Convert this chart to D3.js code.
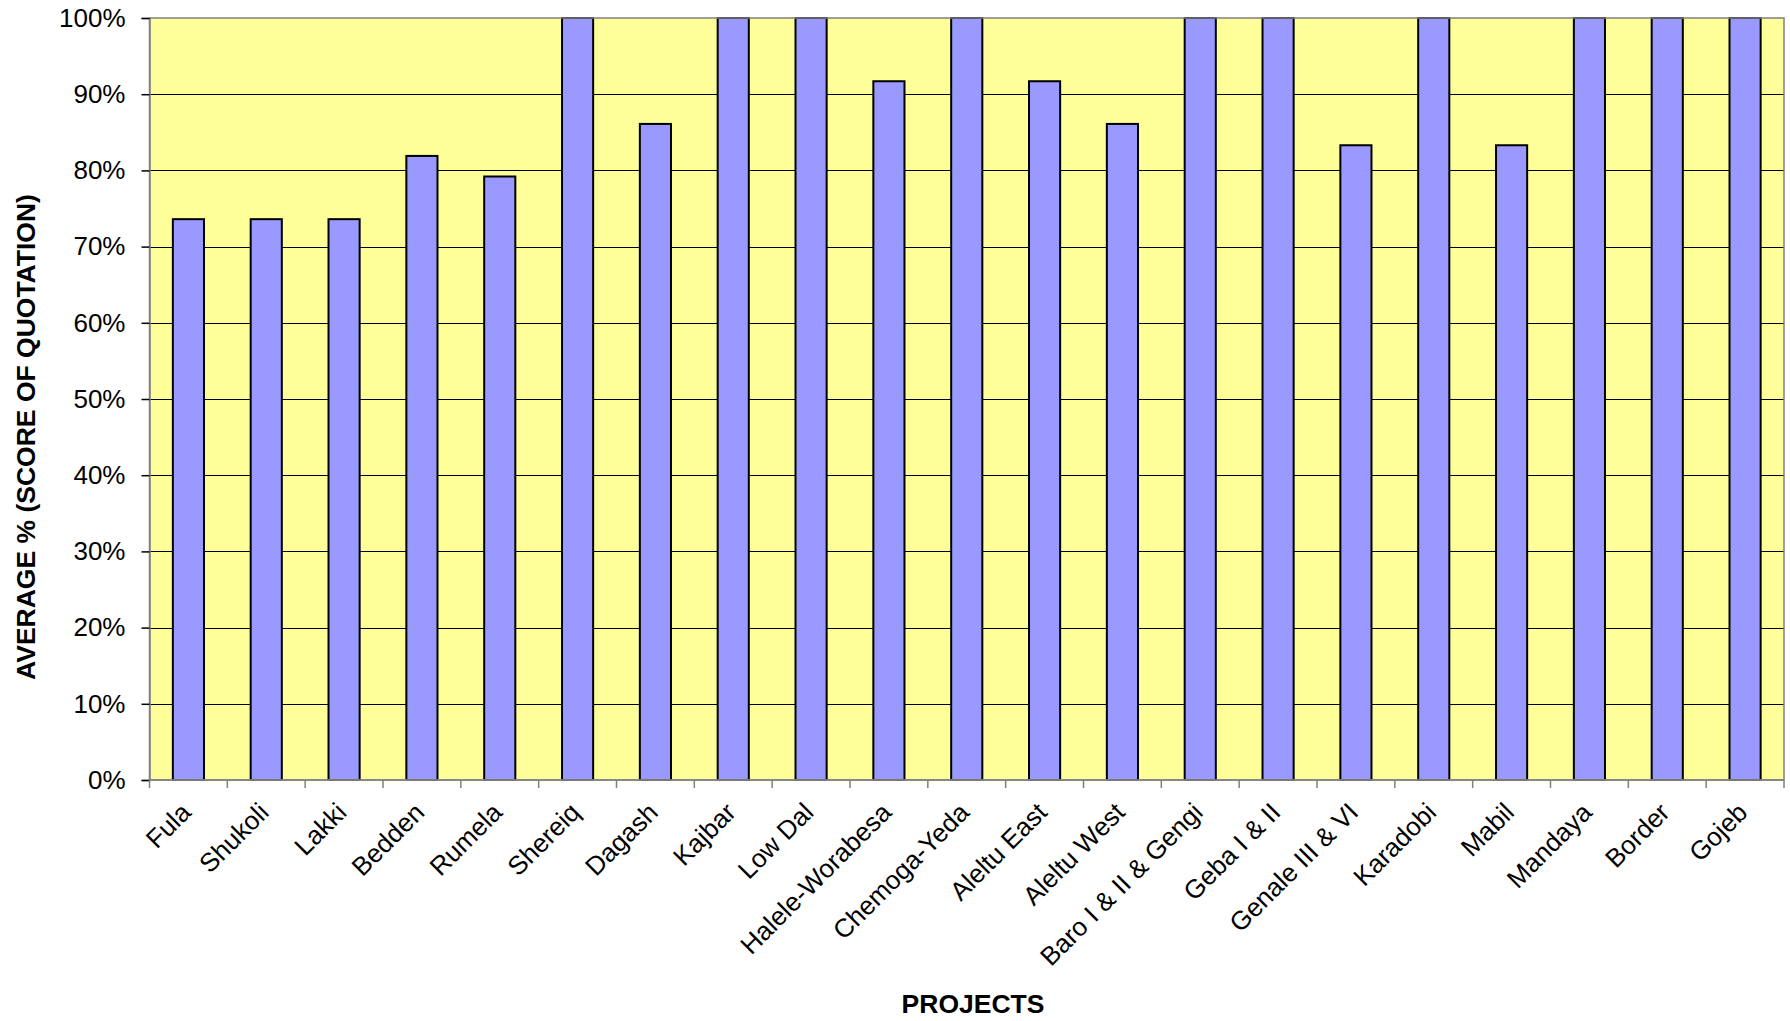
<!DOCTYPE html>
<html>
<head>
<meta charset="utf-8">
<script src="https://cdn.jsdelivr.net/npm/d3@7"></script>
<style>
html,body{margin:0;padding:0;background:#fff;}
svg{display:block;font-family:"Liberation Sans",Arial,sans-serif;}
</style>
</head>
<body>
<svg id="chart" width="1790" height="1021"></svg>
<script>
const categories = ["Fula","Shukoli","Lakki","Bedden","Rumela","Shereiq","Dagash","Kajbar","Low Dal","Halele-Worabesa","Chemoga-Yeda","Aleltu East","Aleltu West","Baro I & II & Gengi","Geba I & II","Genale III & VI","Karadobi","Mabil","Mandaya","Border","Gojeb"];
const values = [0.736,0.736,0.736,0.819,0.792,1.0,0.861,1.0,1.0,0.917,1.0,0.917,0.861,1.0,1.0,0.833,1.0,0.833,1.0,1.0,1.0];
const yTicks = [0,0.1,0.2,0.3,0.4,0.5,0.6,0.7,0.8,0.9,1.0];
const xTitle = "PROJECTS";
const yTitle = "AVERAGE % (SCORE OF QUOTATION)";

const svg = d3.select("#chart");
const L = 149.5, R = 1784, T = 18, B = 780;

const x = d3.scaleBand().domain(categories).range([L, R]).paddingInner(0.6).paddingOuter(0.3);
const xb = d3.scaleBand().domain(categories).range([L, R]);
const y = d3.scaleLinear().domain([0, 1]).range([B, T]);

// plot area
svg.append("rect").attr("x", L).attr("y", T).attr("width", R - L).attr("height", B - T)
  .attr("fill", "#FFFF99");

// gridlines
svg.append("g").selectAll("line").data(yTicks.filter(d => d > 0 && d < 1)).join("line")
  .attr("x1", L).attr("x2", R).attr("y1", d => Math.round(y(d)) + 0.5).attr("y2", d => Math.round(y(d)) + 0.5)
  .attr("stroke", "#000").attr("stroke-width", 1);

// bars
svg.append("g").selectAll("rect").data(categories).join("rect")
  .attr("x", d => x(d)).attr("width", x.bandwidth())
  .attr("y", (d, i) => y(values[i])).attr("height", (d, i) => B - y(values[i]))
  .attr("fill", "#9999FF").attr("stroke", "#000").attr("stroke-width", 2);

// plot border
svg.append("rect").attr("x", L).attr("y", T).attr("width", R - L).attr("height", B - T)
  .attr("fill", "none").attr("stroke", "#808080").attr("stroke-width", 1.5);

// y axis
const yAxis = d3.axisLeft(y).tickValues(yTicks).tickFormat(d3.format(".0%")).tickSize(8).tickPadding(16);
const gy = svg.append("g").attr("transform", `translate(${L},0)`).call(yAxis);
gy.select(".domain").attr("stroke", "#808080").attr("stroke-width", 1.5);
gy.selectAll(".tick line").attr("stroke", "#000").attr("stroke-width", 1.5);
gy.selectAll(".tick text").attr("font-size", 26).attr("fill", "#000")
  .attr("font-family", "'Liberation Sans', Arial, sans-serif");

// x axis ticks at boundaries
const bounds = categories.map(c => xb(c)).concat([R]);
svg.append("g").selectAll("line").data(bounds).join("line")
  .attr("x1", d => d).attr("x2", d => d).attr("y1", B).attr("y2", B + 8)
  .attr("stroke", "#808080").attr("stroke-width", 1.5);
svg.append("line").attr("x1", L).attr("x2", R).attr("y1", B).attr("y2", B)
  .attr("stroke", "#808080").attr("stroke-width", 1.5);

// x labels
svg.append("g").selectAll("text").data(categories).join("text")
  .attr("transform", d => `translate(${xb(d) + xb.bandwidth() / 2 + 4},${B + 34}) rotate(-45)`)
  .attr("text-anchor", "end")
  .attr("font-size", 26).attr("fill", "#000")
  .text(d => d);

// titles
svg.append("text").attr("x", 973).attr("y", 1013).attr("text-anchor", "middle")
  .attr("font-size", 26.5).attr("font-weight", "bold").text(xTitle);
svg.append("text").attr("transform", "translate(34.5,437) rotate(-90)").attr("text-anchor", "middle")
  .attr("font-size", 26.5).attr("font-weight", "bold").text(yTitle);
</script>
</body>
</html>
